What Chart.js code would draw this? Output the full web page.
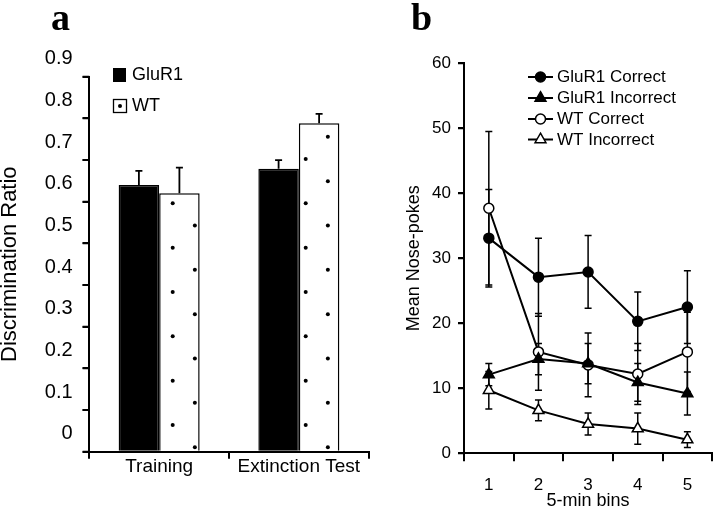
<!DOCTYPE html>
<html><head><meta charset="utf-8">
<script src="https://cdn.jsdelivr.net/npm/chart.js@4/dist/chart.umd.min.js"></script>
<style>
html,body{margin:0;padding:0;background:#fff;}
#wrap{position:relative;width:720px;height:509px;overflow:hidden;background:#fff;}
canvas{position:absolute;top:0;}
#ca{left:0;} #cb{left:380px;}
.pl{position:absolute;font:bold 38px "Liberation Serif","Times New Roman",serif;line-height:38px;color:#000;}
</style></head><body>
<div id="wrap">
<canvas id="ca" width="380" height="509"></canvas>
<canvas id="cb" width="340" height="509"></canvas>
<div class="pl" style="left:51px;top:-2px">a</div>
<div class="pl" style="left:411px;top:-2px">b</div>
</div>
<script>
// ---------- Panel a data ----------
const phaseLabels = ['Training', 'Extinction Test'];
const glur1Ratio = [0.640, 0.679];
const glur1RatioErr = [0.034, 0.021];
const wtRatio = [0.620, 0.788];
const wtRatioErr = [0.062, 0.023];

// ---------- Panel b data ----------
const binLabels = ['1', '2', '3', '4', '5'];
const glur1Correct = [33.1, 27.1, 27.9, 20.3, 22.5];
const glur1CorrectErr = [7.5, 6.0, 5.6, 4.5, 5.6];
const glur1Incorrect = [12.1, 14.5, 13.8, 10.9, 9.2];
const glur1IncorrectErr = [1.7, 2.4, 3.1, 2.9, 3.3];
const wtCorrect = [37.7, 15.6, 13.6, 12.2, 15.6];
const wtCorrectErr = [11.8, 5.9, 4.9, 4.7, 6.1];
const wtIncorrect = [9.7, 6.6, 4.5, 3.8, 2.1];
const wtIncorrectErr = [2.9, 1.6, 1.7, 2.4, 1.2];

Chart.defaults.font.family = '"Liberation Sans", Arial, sans-serif';
Chart.defaults.color = '#000';

// dotted fill pattern for WT bars
function makeDotPattern(ctx) {
  const T = 133, step = T / 3, r = 2.0;
  const c = document.createElement('canvas');
  c.width = T; c.height = T;
  const g = c.getContext('2d');
  g.fillStyle = '#fff'; g.fillRect(0, 0, T, T);
  g.fillStyle = '#000';
  const ax = 39.7, ay = 70.3;
  for (let i = 0; i < 3; i++) for (let j = 0; j < 3; j++) {
    const pts = [[ax + i * step, ay + j * step], [ax + step / 2 + i * step, ay + step / 2 + j * step]];
    pts.forEach(p => { g.beginPath(); g.arc(p[0] % T, p[1] % T, r, 0, Math.PI * 2); g.fill(); });
  }
  return ctx.createPattern(c, 'repeat');
}

function makeErrorPlugin(id, hook, upOnly, lw, cap) {
  const p = { id: id };
  p[hook] = function (chart) {
    const ctx = chart.ctx, ys = chart.scales.y;
    chart.data.datasets.forEach((ds, di) => {
      if (!ds.errors) return;
      const meta = chart.getDatasetMeta(di);
      meta.data.forEach((el, i) => {
        const v = ds.data[i], e = ds.errors[i];
        const x = el.x;
        const yTop = ys.getPixelForValue(v + e);
        const yMid = ys.getPixelForValue(v);
        const yBot = ys.getPixelForValue(v - e);
        ctx.save();
        ctx.strokeStyle = '#000'; ctx.lineWidth = lw;
        ctx.beginPath();
        ctx.moveTo(x, upOnly ? yMid : yBot); ctx.lineTo(x, yTop);
        ctx.moveTo(x - cap, yTop); ctx.lineTo(x + cap, yTop);
        if (!upOnly) { ctx.moveTo(x - cap, yBot); ctx.lineTo(x + cap, yBot); }
        ctx.stroke();
        ctx.restore();
      });
    });
  };
  return p;
}

// y-axis tick marks drawn from the scale's own ticks
function makeTickPlugin(len) {
  return {
    id: 'yTickMarks',
    afterDraw(chart) {
      const ys = chart.scales.y, ctx = chart.ctx;
      ctx.save();
      ctx.strokeStyle = '#000'; ctx.lineWidth = 2;
      ctx.beginPath();
      ys.ticks.forEach((t, i) => {
        const py = ys.getPixelForTick(i);
        ctx.moveTo(ys.right - len, py); ctx.lineTo(ys.right, py);
      });
      ctx.stroke();
      ctx.restore();
    }
  };
}

const legendA = {
  id: 'legendA',
  afterDraw(chart) {
    const ctx = chart.ctx;
    ctx.save();
    ctx.font = '18px "Liberation Sans", Arial, sans-serif';
    ctx.textBaseline = 'middle';
    ctx.fillStyle = '#000';
    ctx.fillRect(113, 68, 13, 14);
    ctx.fillText(chart.data.datasets[0].label, 132, 75.5);
    ctx.fillStyle = '#fff'; ctx.fillRect(113.5, 99.5, 13, 13);
    ctx.strokeStyle = '#000'; ctx.lineWidth = 1.3; ctx.strokeRect(113.5, 99.5, 13, 13);
    ctx.fillStyle = '#000';
    ctx.beginPath(); ctx.arc(120, 106, 2.0, 0, Math.PI * 2); ctx.fill();
    ctx.fillText(chart.data.datasets[1].label, 132, 106.5);
    ctx.restore();
  }
};

function drawMarker(ctx, style, x, y, r, fill) {
  ctx.beginPath();
  if (style === 'circle') {
    ctx.arc(x, y, r, 0, Math.PI * 2);
  } else {
    let rad = 0;
    ctx.moveTo(x + Math.sin(rad) * r, y - Math.cos(rad) * r);
    rad += 2 * Math.PI / 3;
    ctx.lineTo(x + Math.sin(rad) * r, y - Math.cos(rad) * r);
    rad += 2 * Math.PI / 3;
    ctx.lineTo(x + Math.sin(rad) * r, y - Math.cos(rad) * r);
    ctx.closePath();
  }
  ctx.fillStyle = fill; ctx.fill();
  ctx.lineWidth = 1.5; ctx.strokeStyle = '#000'; ctx.stroke();
}

const legendB = {
  id: 'legendB',
  afterDraw(chart) {
    const ctx = chart.ctx;
    ctx.save();
    ctx.font = '17px "Liberation Sans", Arial, sans-serif';
    ctx.textBaseline = 'middle';
    const ys = [77, 98, 119, 139.5];
    chart.data.datasets.forEach((ds, i) => {
      const y = ys[i];
      ctx.strokeStyle = '#000'; ctx.lineWidth = 2;
      ctx.beginPath(); ctx.moveTo(148, y); ctx.lineTo(173, y); ctx.stroke();
      drawMarker(ctx, ds.pointStyle, 160.5, y, ds.pointStyle === 'circle' ? 5 : 6.3, ds.pointBackgroundColor);
      ctx.fillStyle = '#000';
      ctx.fillText(ds.label, 177, y + 0.5);
    });
    ctx.restore();
  }
};

// ---------- Panel a ----------
const ctxA = document.getElementById('ca').getContext('2d');
new Chart(ctxA, {
  type: 'bar',
  data: {
    labels: phaseLabels,
    datasets: [
      { label: 'GluR1', data: glur1Ratio, errors: glur1RatioErr, backgroundColor: '#000', borderColor: '#000', borderWidth: 1.5 },
      { label: 'WT', data: wtRatio, errors: wtRatioErr, backgroundColor: makeDotPattern(ctxA), borderColor: '#000', borderWidth: 1.5 }
    ]
  },
  options: {
    responsive: false, animation: false,
    layout: { padding: { left: 0, top: 76.7, right: 11.3, bottom: 0 } },
    datasets: { bar: { categoryPercentage: 0.58, barPercentage: 1 } },
    plugins: { legend: { display: false }, tooltip: { enabled: false } },
    scales: {
      x: {
        grid: { offset: true, drawOnChartArea: false, drawTicks: true, tickLength: 7, color: '#000', lineWidth: 2 },
        border: { color: '#000', width: 2 },
        ticks: { font: { size: 19 }, color: '#000', padding: -3, maxRotation: 0 },
        afterFit: s => { s.height = 509 - 451.7; }
      },
      y: {
        min: 0, max: 0.9,
        grid: { drawOnChartArea: false, drawTicks: true, tickLength: 6.7, color: '#000', lineWidth: 2 },
        border: { color: '#000', width: 2 },
        ticks: { stepSize: 0.1, labelOffset: -18, padding: 10, font: { size: 20 }, color: '#000',
          callback: v => (Math.abs(v) < 1e-9 ? '0' : v.toFixed(1)) },
        title: { display: true, text: 'Discrimination Ratio', font: { size: 22, lineHeight: 1 }, color: '#000', padding: { top: -1.5, bottom: 0 } },
        afterFit: s => { s.width = 89.3; }
      }
    }
  },
  plugins: [makeErrorPlugin('errA', 'afterDatasetsDraw', true, 1.8, 3.5), makeTickPlugin(6.7), legendA]
});

// ---------- Panel b ----------
const ctxB = document.getElementById('cb').getContext('2d');
function lineDs(label, data, errs, style, fill) {
  return {
    label: label, data: data, errors: errs,
    borderColor: '#000', borderWidth: 2, backgroundColor: fill,
    pointStyle: style, pointRadius: style === 'circle' ? 5 : 6.3,
    pointBackgroundColor: fill, pointBorderColor: '#000', pointBorderWidth: 1.5,
    tension: 0, fill: false
  };
}
new Chart(ctxB, {
  type: 'line',
  data: {
    labels: binLabels,
    datasets: [
      lineDs('GluR1 Correct', glur1Correct, glur1CorrectErr, 'circle', '#000'),
      lineDs('GluR1 Incorrect', glur1Incorrect, glur1IncorrectErr, 'triangle', '#000'),
      lineDs('WT Correct', wtCorrect, wtCorrectErr, 'circle', '#fff'),
      lineDs('WT Incorrect', wtIncorrect, wtIncorrectErr, 'triangle', '#fff')
    ]
  },
  options: {
    responsive: false, animation: false,
    layout: { padding: { left: 0, top: 63.3, right: 1.7, bottom: 0 } },
    plugins: { legend: { display: false }, tooltip: { enabled: false } },
    scales: {
      x: {
        offset: true,
        grid: { offset: true, drawOnChartArea: false, drawTicks: true, tickLength: 8, color: '#000', lineWidth: 2 },
        border: { color: '#000', width: 2 },
        ticks: { font: { size: 17 }, color: '#000', padding: 13.5, maxRotation: 0 },
        title: { display: true, text: '5-min bins', font: { size: 18, lineHeight: 1 }, color: '#000', padding: { top: 0, bottom: -1 } },
        afterFit: s => { s.height = 509 - 453.3; }
      },
      y: {
        min: 0, max: 60,
        grid: { drawOnChartArea: false, drawTicks: true, tickLength: 6, color: '#000', lineWidth: 2 },
        border: { color: '#000', width: 2 },
        ticks: { stepSize: 10, padding: 7, font: { size: 17 }, color: '#000' },
        title: { display: true, text: 'Mean Nose-pokes', font: { size: 18, lineHeight: 1.2 }, color: '#000', padding: { top: 23.2, bottom: 0 } },
        afterFit: s => { s.width = 84; }
      }
    }
  },
  plugins: [makeErrorPlugin('errB', 'beforeDatasetsDraw', false, 1.5, 3.5), makeTickPlugin(6), legendB]
});
</script>
</body></html>
